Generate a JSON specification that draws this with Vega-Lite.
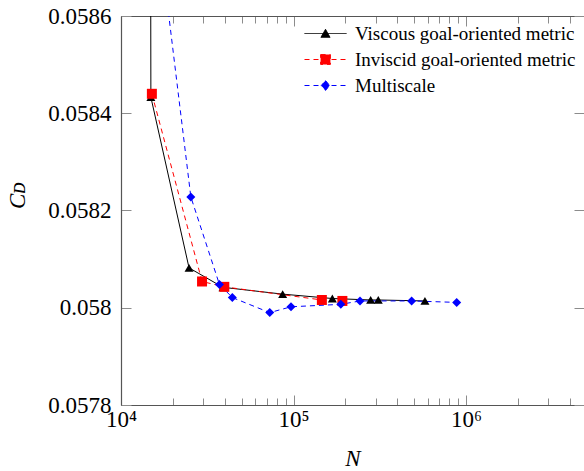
{
  "$schema": "https://vega.github.io/schema/vega-lite/v6.json",
  "width": 463,
  "height": 389,
  "autosize": {"type": "none"},
  "padding": {"left": 121, "top": 16, "right": 0, "bottom": 66},
  "background": "white",
  "config": {
    "view": {"stroke": null},
    "font": "Liberation Serif",
    "style": {
      "guide-label": {"font": "Liberation Serif", "fill": "black"},
      "guide-title": {"font": "Liberation Serif", "fill": "black"}
    },
    "axis": {
      "grid": false,
      "titleFontWeight": "normal",
      "titleFontStyle": "italic",
      "domainColor": "#555555",
      "domainWidth": 1.2,
      "tickColor": "#8c8c8c",
      "tickWidth": 1
    }
  },
  "datasets": {
    "cd": [
      {"series": "Viscous goal-oriented metric", "N": 14800, "CD": 0.0592},
      {"series": "Viscous goal-oriented metric", "N": 14900, "CD": 0.058433},
      {"series": "Viscous goal-oriented metric", "N": 24800, "CD": 0.058082},
      {"series": "Viscous goal-oriented metric", "N": 39000, "CD": 0.058042},
      {"series": "Viscous goal-oriented metric", "N": 86500, "CD": 0.058028},
      {"series": "Viscous goal-oriented metric", "N": 168000, "CD": 0.058019},
      {"series": "Viscous goal-oriented metric", "N": 280000, "CD": 0.058016},
      {"series": "Viscous goal-oriented metric", "N": 310000, "CD": 0.058016},
      {"series": "Viscous goal-oriented metric", "N": 578000, "CD": 0.058014},
      {"series": "Inviscid goal-oriented metric", "N": 15100, "CD": 0.05844},
      {"series": "Inviscid goal-oriented metric", "N": 29500, "CD": 0.058054},
      {"series": "Inviscid goal-oriented metric", "N": 39700, "CD": 0.058043},
      {"series": "Inviscid goal-oriented metric", "N": 146000, "CD": 0.058016},
      {"series": "Inviscid goal-oriented metric", "N": 192000, "CD": 0.058014},
      {"series": "Multiscale", "N": 17500, "CD": 0.0587},
      {"series": "Multiscale", "N": 25400, "CD": 0.058228},
      {"series": "Multiscale", "N": 37200, "CD": 0.058048},
      {"series": "Multiscale", "N": 44200, "CD": 0.058021},
      {"series": "Multiscale", "N": 72800, "CD": 0.05799},
      {"series": "Multiscale", "N": 96700, "CD": 0.058002},
      {"series": "Multiscale", "N": 188000, "CD": 0.058007},
      {"series": "Multiscale", "N": 243000, "CD": 0.058014},
      {"series": "Multiscale", "N": 484000, "CD": 0.058014},
      {"series": "Multiscale", "N": 883000, "CD": 0.058011}
    ]
  },
  "data": {"name": "cd"},
  "layer": [
    {
      "transform": [{"filter": "datum.series == 'Viscous goal-oriented metric'"}],
      "mark": {"type": "line", "strokeWidth": 1, "color": "#000000", "clip": true},
      "encoding": {
        "x": {
          "field": "N", "type": "quantitative",
          "scale": {"type": "log", "domain": [10000, 4830000], "nice": false},
          "axis": {
            "orient": "bottom",
            "title": "N",
            "titleFont": "Liberation Serif",
            "titleFontSize": 23,
            "titleColor": "black",
            "titlePadding": 13,
            "values": [10000, 20000, 30000, 40000, 50000, 60000, 70000, 80000, 90000, 100000, 200000, 300000, 400000, 500000, 600000, 700000, 800000, 900000, 1000000, 2000000, 3000000, 4000000],
            "labelExpr": "datum.value == 10000 ? '10⁴' : datum.value == 100000 ? '10⁵' : datum.value == 1000000 ? '10⁶' : ''",
            "labelFont": "Liberation Serif",
            "labelFontSize": 23,
            "labelColor": "black",
            "labelPadding": 13,
            "labelFlush": false,
            "labelOverlap": false,
            "tickSize": {"condition": {"test": "abs(log(datum.value) / LN10 - round(log(datum.value) / LN10)) < 0.001", "value": -10}, "value": -7}
          }
        },
        "y": {
          "field": "CD", "type": "quantitative",
          "scale": {"domain": [0.0578, 0.0586], "nice": false, "zero": false},
          "axis": {
            "orient": "left",
            "title": "Cᴅ",
            "titleFont": "Liberation Serif",
            "titleFontSize": 23,
            "titleColor": "black",
            "titlePadding": 18,
            "titleY": 179,
            "values": [0.0578, 0.058, 0.0582, 0.0584, 0.0586],
            "labelExpr": "format(datum.value, '~g')",
            "labelFont": "Liberation Serif",
            "labelFontSize": 23,
            "labelColor": "black",
            "labelPadding": 20,
            "labelFlush": false,
            "labelOverlap": false,
            "tickSize": -10
          }
        }
      }
    },
    {
      "transform": [{"filter": "datum.series == 'Inviscid goal-oriented metric'"}],
      "mark": {"type": "line", "strokeWidth": 1, "color": "#ff0000", "strokeDash": [5, 4], "clip": true},
      "encoding": {
        "x": {
          "field": "N", "type": "quantitative",
          "axis": {
            "orient": "top",
            "title": null,
            "labels": false,
            "values": [10000, 20000, 30000, 40000, 50000, 60000, 70000, 80000, 90000, 100000, 200000, 300000, 400000, 500000, 600000, 700000, 800000, 900000, 1000000, 2000000, 3000000, 4000000],
            "tickSize": {"condition": {"test": "abs(log(datum.value) / LN10 - round(log(datum.value) / LN10)) < 0.001", "value": -10}, "value": -7}
          }
        },
        "y": {
          "field": "CD", "type": "quantitative",
          "axis": {
            "orient": "right",
            "title": null,
            "labels": false,
            "domain": false,
            "values": [0.0578, 0.058, 0.0582, 0.0584, 0.0586],
            "tickSize": -10
          }
        }
      }
    },
    {
      "transform": [{"filter": "datum.series == 'Multiscale'"}],
      "mark": {"type": "line", "strokeWidth": 1, "color": "#0000ff", "strokeDash": [5, 4], "clip": true},
      "encoding": {
        "x": {"field": "N", "type": "quantitative", "axis": null},
        "y": {"field": "CD", "type": "quantitative", "axis": null}
      }
    },
    {
      "transform": [{"filter": "datum.series == 'Viscous goal-oriented metric'"}],
      "mark": {"type": "point", "shape": "triangle-up", "filled": true, "color": "#000000", "opacity": 1, "size": 81, "clip": true},
      "encoding": {
        "x": {"field": "N", "type": "quantitative", "axis": null},
        "y": {"field": "CD", "type": "quantitative", "axis": null}
      }
    },
    {
      "transform": [{"filter": "datum.series == 'Inviscid goal-oriented metric'"}],
      "mark": {"type": "point", "shape": "square", "filled": true, "color": "#ff0000", "opacity": 1, "size": 100, "clip": true},
      "encoding": {
        "x": {"field": "N", "type": "quantitative", "axis": null},
        "y": {"field": "CD", "type": "quantitative", "axis": null}
      }
    },
    {
      "transform": [{"filter": "datum.series == 'Multiscale'"}],
      "mark": {"type": "point", "shape": "diamond", "filled": true, "color": "#0000ff", "opacity": 1, "size": 81, "clip": true},
      "encoding": {
        "x": {"field": "N", "type": "quantitative", "axis": null},
        "y": {"field": "CD", "type": "quantitative", "axis": null}
      }
    },
    {
      "transform": [{"filter": "false"}],
      "mark": {"type": "point", "filled": true, "opacity": 1},
      "encoding": {
        "x": {"field": "N", "type": "quantitative", "axis": null},
        "y": {"field": "CD", "type": "quantitative", "axis": null},
        "fill": {
          "field": "series", "type": "nominal",
          "legend": {
            "title": null,
            "orient": "top-right",
            "offset": 8,
            "padding": 0,
            "symbolSize": 196,
            "symbolStrokeWidth": 1,
            "symbolOpacity": 1,
            "labelFont": "Liberation Serif",
            "labelFontSize": 19,
            "labelColor": "black",
            "labelOffset": 20,
            "labelLimit": 400,
            "rowPadding": 6
          },
          "scale": {"domain": ["Viscous goal-oriented metric", "Inviscid goal-oriented metric", "Multiscale"], "range": ["#000000", "#ff0000", "#0000ff"]}
        },
        "stroke": {
          "field": "series", "type": "nominal",
          "legend": {"title": null, "orient": "top-right", "symbolOpacity": 1},
          "scale": {"domain": ["Viscous goal-oriented metric", "Inviscid goal-oriented metric", "Multiscale"], "range": ["#000000", "#ff0000", "#0000ff"]}
        },
        "strokeDash": {
          "field": "series", "type": "nominal",
          "legend": {"title": null, "orient": "top-right", "symbolOpacity": 1},
          "scale": {"domain": ["Viscous goal-oriented metric", "Inviscid goal-oriented metric", "Multiscale"], "range": [[1, 0], [5, 4], [5, 4]]}
        },
        "shape": {
          "field": "series", "type": "nominal",
          "legend": {"title": null, "orient": "top-right", "symbolOpacity": 1},
          "scale": {"domain": ["Viscous goal-oriented metric", "Inviscid goal-oriented metric", "Multiscale"], "range": ["M-3,0H3M0,-0.6L0.65,0.55L-0.65,0.55Z", "M-3,0H3M-0.7,-0.7H0.7V0.7H-0.7Z", "M-3,0H3M0,-0.7L0.6,0L0,0.7L-0.6,0Z"]}
        }
      }
    }
  ],
  "resolve": {"axis": {"x": "independent", "y": "independent"}}
}
